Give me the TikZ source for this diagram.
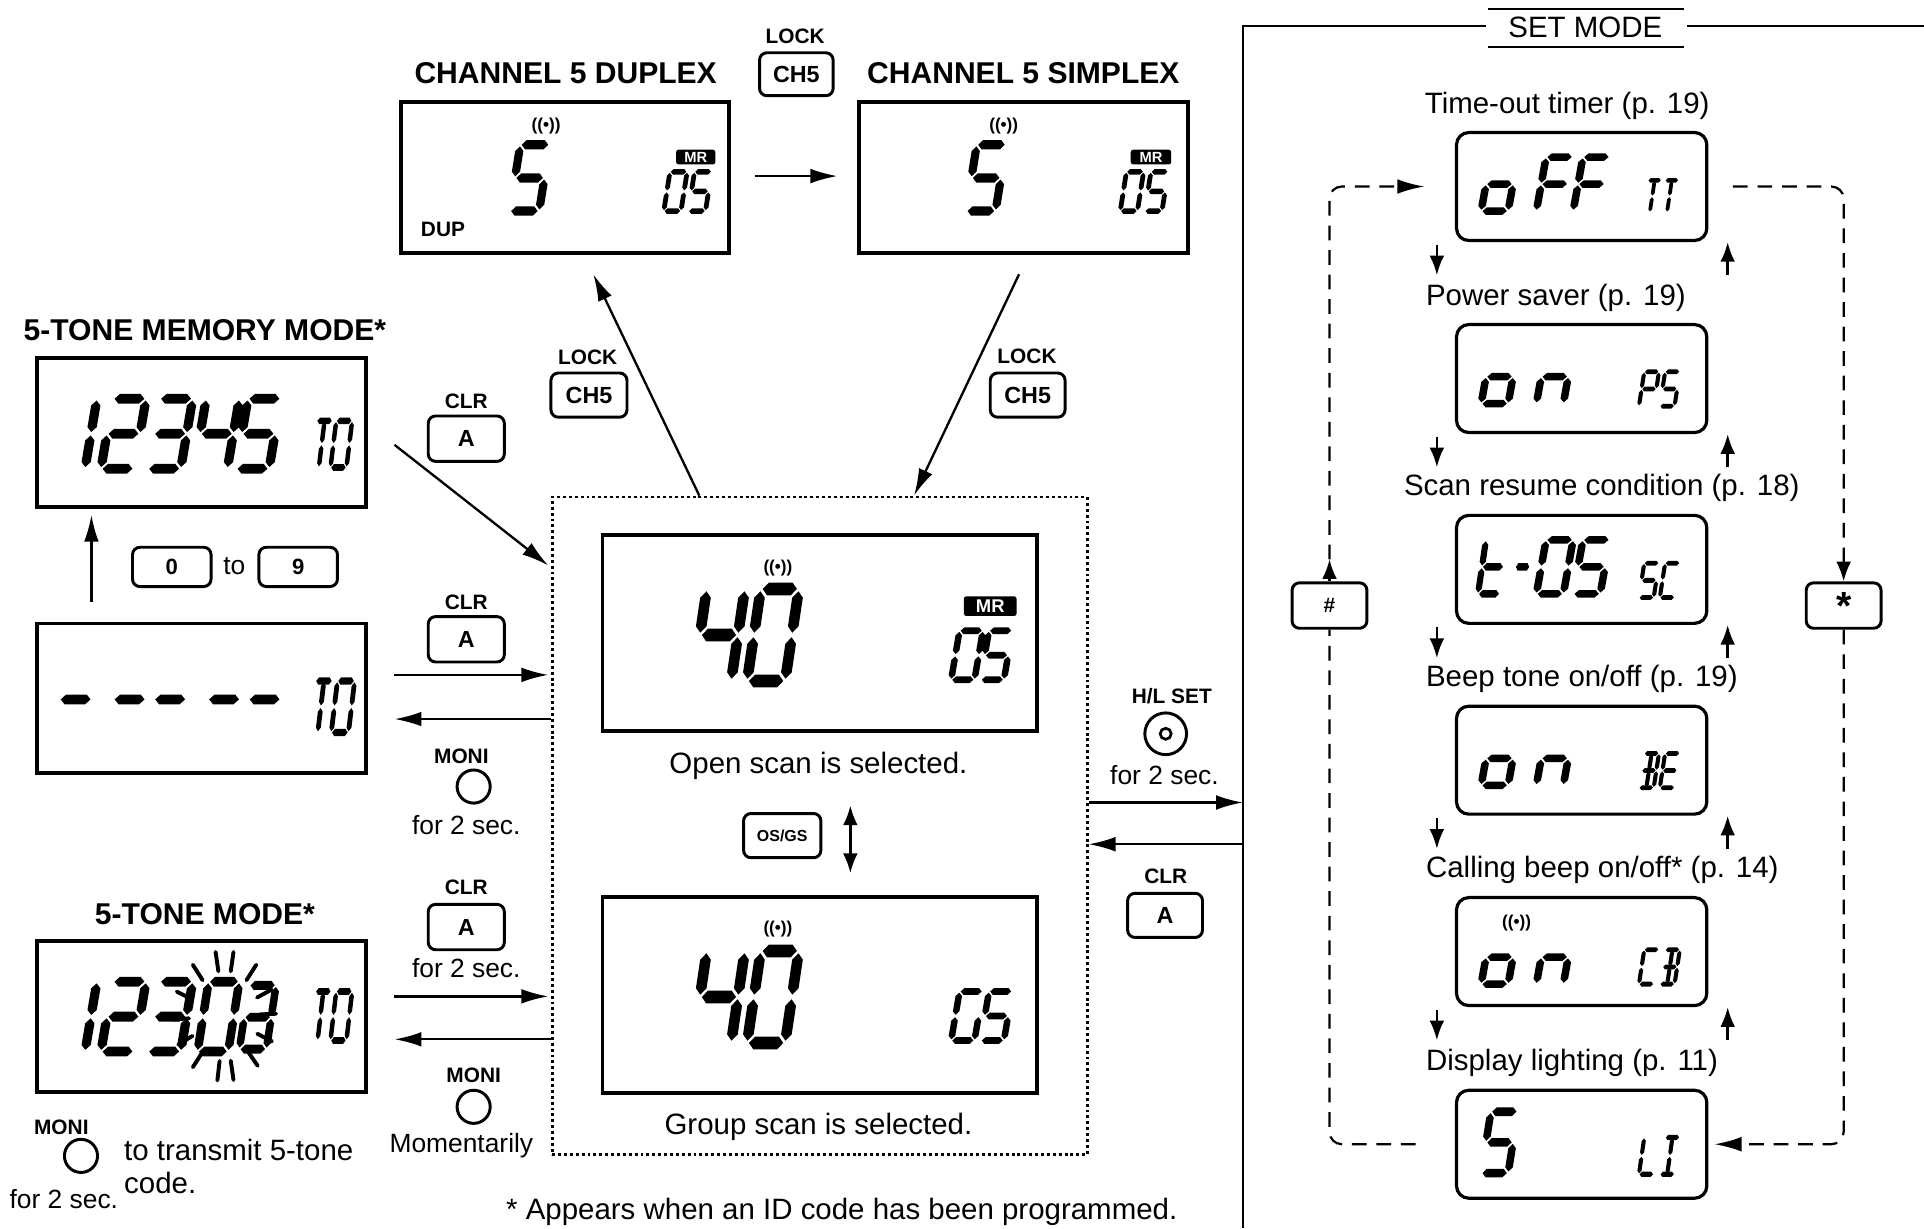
\documentclass[tikz,border=0pt]{standalone}
\usepackage{fontspec}
\setmainfont{Liberation Sans}
\usetikzlibrary{arrows.meta,calc}
\newcommand\hsg[1]{\fill (0.05,#1) -- (0.19,{#1-0.14}) -- (0.81,{#1-0.14}) -- (0.95,#1) -- (0.81,{#1+0.14}) -- (0.19,{#1+0.14}) -- cycle;}
\newcommand\vsg[2]{\fill (#1,{#2+0.05}) -- ({#1+0.14},{#2+0.19}) -- ({#1+0.14},{#2+0.81}) -- (#1,{#2+0.95}) -- ({#1-0.14},{#2+0.81}) -- ({#1-0.14},{#2+0.19}) -- cycle;}
\def\sgZero{1,1,1,1,1,1,0,0,0}
\def\sgOne{0,1,1,0,0,0,0,0,0}
\def\sgTwo{1,1,0,1,1,0,1,0,0}
\def\sgThree{1,1,1,1,0,0,1,0,0}
\def\sgFour{0,1,1,0,0,1,1,0,0}
\def\sgFive{1,0,1,1,0,1,1,0,0}
\def\sgPart{1,1,1,1,1,0,1,0,0}
\def\sgLo{0,0,1,1,1,0,1,0,0}
\def\sgLn{0,0,1,0,1,0,1,0,0}
\def\sgF{1,0,0,0,1,1,1,0,0}
\def\sgLt{0,0,0,1,1,1,1,0,0}
\def\sgDash{0,0,0,0,0,0,1,0,0}
\def\sgT{1,0,0,0,0,0,0,1,1}
\def\sgP{1,1,0,0,1,1,1,0,0}
\def\sgC{1,0,0,1,1,1,0,0,0}
\def\sgB{1,1,1,1,0,0,1,1,1}
\def\sgE{1,0,0,1,1,1,1,0,0}
\def\sgL{0,0,0,1,1,1,0,0,0}
\def\sgI{1,0,0,1,0,0,0,1,1}
\def\sgG{1,0,1,1,1,1,0,0,0}
\tikzset{
  sev/.pic={\begin{scope}[xslant=0.18]
    \foreach \v [count=\i] in #1 {\ifnum\v=1 \ifcase\i\or\hsg{0}\or\vsg{1}{0}\or\vsg{1}{1}\or\hsg{2}\or\vsg{0}{1}\or\vsg{0}{0}\or\hsg{1}\or\vsg{0.5}{0}\or\vsg{0.5}{1}\fi\fi}
  \end{scope}}
}
\newcommand\dg[5]{\pic[xscale=#3,yscale=#4] at (#1,#2) {sev=#5};}
\begin{document}
\begin{tikzpicture}[x=1pt,y=-1pt,
  lcd/.style={draw,line width=3pt,inner sep=0pt},
  slcd/.style={draw,line width=2.6pt,rounded corners=10pt,inner sep=0pt,minimum width=204pt,minimum height=88pt},
  keybox/.style={draw,line width=2.4pt,rounded corners=6pt,inner sep=0pt,font=\bfseries\fontsize{19}{19}\selectfont},
  btn/.style={draw,circle,line width=2.4pt,minimum size=27pt,inner sep=0pt},
  lbl/.style={inner sep=0pt,font=\bfseries\fontsize{17}{17}\selectfont},
  big/.style={inner sep=0pt,font=\bfseries\fontsize{24.5}{24.5}\selectfont},
  txt/.style={inner sep=0pt,font=\fontsize{24}{24}\selectfont},
  sml/.style={inner sep=0pt,font=\fontsize{21.5}{21.5}\selectfont},
  ant/.style={inner sep=0pt,font=\bfseries\fontsize{14}{14}\selectfont},
  mr/.style={fill=black,text=white,rounded corners=2pt,inner sep=0pt,font=\bfseries\fontsize{12}{12}\selectfont},
  tipL/.tip={Latex[length=22pt,width=12pt]},
  tipS/.tip={Latex[length=16pt,width=12pt]},
  arr/.style={line width=1.9pt,-tipL},
  sarr/.style={line width=2pt,-tipS},
  dsh/.style={line width=1.8pt,dash pattern=on 12pt off 8pt,rounded corners=10pt},
  dotbox/.style={draw,line width=2.2pt,dash pattern=on 2.4pt off 2.4pt,inner sep=0pt}
]
\useasboundingbox (0,0) rectangle (1568,1001);
\fill[white] (0,0) rectangle (1568,1001);

% ---------- top row ----------
\node[big] (dupT) at (461,60) {CHANNEL 5 DUPLEX};
\node[big] (simT) at (834,60) {CHANNEL 5 SIMPLEX};
\node[lbl] (lockT) at (648,30) {LOCK};
\node[keybox,minimum width=60pt,minimum height=35pt] (ch5T) at (649,60.5) {CH5};
\node[lcd,minimum width=267pt,minimum height=123pt] (dup) at (460.5,144.5) {};
\node[lcd,minimum width=268pt,minimum height=123pt] (sim) at (834,144.5) {};
\draw[arr] ($(dup.east)+(20,-1)$) -- ($(sim.west)+(-16,-1)$);
% duplex contents
\node[ant] (dupW) at (445,103) {((•))};
\dg{424}{118}{24}{27}{\sgFive}
\node[mr,minimum width=32pt,minimum height=12pt] (dupMR) at (567,128) {MR};
\dg{546}{140}{14}{16}{\sgZero}
\dg{566}{140}{14}{16}{\sgFive}
\node[lbl] (dupD) at (361,187) {DUP};
% simplex contents
\node[ant] (simW) at (818,103) {((•))};
\dg{796}{118}{24}{27}{\sgFive}
\node[mr,minimum width=33pt,minimum height=12pt] (simMR) at (938,128) {MR};
\dg{918}{140}{14}{16}{\sgZero}
\dg{938}{140}{14}{16}{\sgFive}

% ---------- left column ----------
\node[big] (memT) at (167,269) {5-TONE MEMORY MODE*};
\node[lcd,minimum width=268pt,minimum height=121pt] (mem) at (164,352.5) {};
\dg{52}{325}{27}{28.5}{\sgOne}
\dg{92}{325}{27}{28.5}{\sgTwo}
\dg{130}{325}{27}{28.5}{\sgThree}
\dg{168}{325}{27}{28.5}{\sgFour}
\dg{202}{325}{27}{28.5}{\sgFive}
\dg{258}{343}{13}{19}{\sgT}
\dg{274}{343}{13}{19}{\sgZero}

\node[keybox,minimum width=64pt,minimum height=32pt,font=\bfseries\fontsize{18}{18}\selectfont] (k0) at (140,462) {0};
\node[sml] (toT) at (191,461) {to};
\node[keybox,minimum width=64pt,minimum height=32pt,font=\bfseries\fontsize{18}{18}\selectfont] (k9) at (243,462) {9};

\node[lcd,minimum width=268pt,minimum height=122pt] (dashL) at (164,569) {};
\foreach \xx in {53,97,130,174,207} {\dg{\xx}{541.5}{27}{28.5}{\sgDash}}
\dg{257}{555}{14}{21}{\sgT}
\dg{275}{555}{14}{21}{\sgZero}
\draw[arr] ($(dashL.north west)+(46,-16)$) -- ($(mem.south west)+(46,5)$);

\node[lbl] (clr1) at (380,327) {CLR};
\node[keybox,minimum width=62pt,minimum height=37pt] (ka1) at (380,357.5) {A};
\node[lbl] (clr2) at (380,491) {CLR};
\node[keybox,minimum width=62pt,minimum height=37pt] (ka2) at (380,521) {A};
\node[lbl] (moni1) at (376,616) {MONI};
\node[btn] (mb1) at (386,641) {};
\node[sml] (f2s1) at (380,672) {for 2 sec.};

\node[big] (toneT) at (167,745) {5-TONE MODE*};
\node[lcd,minimum width=268pt,minimum height=123pt] (tone) at (164,828.5) {};
\dg{52}{800}{27}{28.5}{\sgOne}
\dg{92}{800}{27}{28.5}{\sgTwo}
\dg{130}{800}{27}{28.5}{\sgThree}
\dg{170}{800}{25}{28.5}{\sgZero}
\dg{203}{803}{22}{26}{\sgPart}
\coordinate (rc) at (183,828);
\foreach \a in {80,100,128,158,183,206,232,262,280,310,337,2,24,52}
  {\draw[line width=3.2pt,line cap=round] ($(rc)+({29*cos(\a)},{-37*sin(\a)})$) -- ($(rc)+({42*cos(\a)},{-53*sin(\a)})$);}
\dg{257}{808}{13}{20}{\sgT}
\dg{274}{808}{13}{20}{\sgZero}

\node[lbl] (moni2) at (50,919) {MONI};
\node[btn] (mb2) at (66,942) {};
\node[sml] (f2s2) at (52,977) {for 2 sec.};
\node[txt,anchor=west] (trans) at (101,937) {to transmit 5-tone};
\node[txt,anchor=west] (code) at (101,964) {code.};

\node[lbl] (clr3) at (380,723) {CLR};
\node[keybox,minimum width=62pt,minimum height=37pt] (ka3) at (380,755.5) {A};
\node[sml] (f2s3) at (380,789) {for 2 sec.};
\node[lbl] (moni3) at (386,876) {MONI};
\node[btn] (mb3) at (386,902) {};
\node[sml] (moment) at (376,934) {Momentarily};

% ---------- centre box ----------
\node[dotbox,minimum width=436pt,minimum height=536pt] (cbox) at (668,673) {};
\node[lcd,minimum width=354pt,minimum height=160pt] (open) at (668,516) {};
\node[ant] (openW) at (634,463) {((•))};
\dg{576}{480}{31}{37.5}{\sgFour}
\dg{620}{480}{31}{37.5}{\sgZero}
\node[mr,minimum width=43pt,minimum height=16pt,font=\bfseries\fontsize{15}{15}\selectfont] (openMR) at (807,494) {MR};
\dg{782}{514}{19}{20}{\sgZero}
\dg{806}{514}{19}{20}{\sgFive}
\node[txt] (openT) at (667,624) {Open scan is selected.};
\node[keybox,minimum width=63pt,minimum height=36pt,font=\bfseries\fontsize{13}{13}\selectfont] (osgs) at (637.5,681) {OS/GS};
\node[lcd,minimum width=354pt,minimum height=160pt] (grp) at (668,811) {};
\node[ant] (grpW) at (634,757) {((•))};
\dg{576}{775}{31}{37.5}{\sgFour}
\dg{620}{775}{31}{37.5}{\sgZero}
\dg{782}{808}{19}{20}{\sgG}
\dg{806}{808}{19}{20}{\sgFive}
\node[txt] (grpT) at (667,918) {Group scan is selected.};
\draw[line width=1.9pt,tipS-tipS] ($(open.south)+(25,59)$) -- ($(grp.north)+(25,-18)$);

% left arrows into the box
\draw[arr] ($(mem.east)+(22,10)$) -- ($(cbox.north west)+(-2,57)$);
\draw[arr] ($(dashL.east)+(22,-19)$) -- ($(cbox.west)+(-2,-123)$);
\draw[arr] ($(cbox.west)+(0,-87)$) -- ($(dashL.east)+(22,17)$);
\draw[arr] ($(tone.east)+(22,-16.5)$) -- ($(cbox.west)+(-2,139)$);
\draw[arr] ($(cbox.west)+(0,174)$) -- ($(tone.east)+(22,18.5)$);

% top arrows
\node[lbl] (lock2) at (479,291) {LOCK};
\node[keybox,minimum width=62pt,minimum height=36pt] (ch52) at (480,322) {CH5};
\node[lbl] (lock3) at (837,290) {LOCK};
\node[keybox,minimum width=61pt,minimum height=36pt] (ch53) at (837.5,322) {CH5};
\draw[arr] ($(cbox.north west)+(121,0)$) -- ($(dup.south west)+(158,16)$);
\draw[arr] ($(sim.south west)+(132,16)$) -- ($(cbox.north west)+(296,0)$);

% ---------- set mode frame ----------
\coordinate (frTL) at (1013,21);
\coordinate (frBL) at (1013,1001);
\node[txt] (setT) at (1292,22) {SET MODE};
\draw[line width=2pt] (1211,21) -- (frTL) -- (frBL);
\draw[line width=2pt] (1375,21) -- (1568,21);
\draw[line width=1.6pt] (1213,7) -- (1372,7);
\draw[line width=1.6pt] (1213,38) -- (1372,38);

% H/L SET and CLR between box and frame
\node[lbl] (hlT) at (955,567) {H/L SET};
\node[btn,minimum size=34pt] (hlb) at (950,598) {};
\draw[line width=2.2pt] (hlb.center) circle (4.5);
\node[sml] (f2s4) at (949,632) {for 2 sec.};
\draw[arr] ($(cbox.east)+(0,-19)$) -- ($(cbox.east -| frTL)+(0,-19)$);
\draw[arr] ($(cbox.east -| frTL)+(0,15)$) -- ($(cbox.east)+(0,15)$);
\node[lbl] (clr4) at (950,714) {CLR};
\node[keybox,minimum width=61pt,minimum height=36pt] (ka4) at (949.5,746) {A};

% ---------- set mode displays ----------
\node[txt,anchor=west] (l1) at (1161,86) {Time-out timer (p. 19)};
\node[slcd] (s1) at (1289,152) {};
\dg{1215}{128}{22}{22}{\sgLo}
\dg{1260}{128}{22}{22}{\sgF}
\dg{1290}{128}{22}{22}{\sgF}
\dg{1343}{147}{11}{13}{\sgT}
\dg{1357}{147}{11}{13}{\sgT}

\node[txt,anchor=west] (l2) at (1162,243) {Power saver (p. 19)};
\node[slcd] (s2) at (1289,308.5) {};
\dg{1215}{285}{22}{22}{\sgLo}
\dg{1260}{285}{22}{22}{\sgLn}
\dg{1340}{303}{12}{14}{\sgP}
\dg{1357}{303}{12}{14}{\sgFive}

\node[txt,anchor=west] (l3) at (1144,398) {Scan resume condition (p. 18)};
\node[slcd] (s3) at (1289,464) {};
\dg{1211}{440}{18}{22}{\sgLt}
\dg{1237}{440}{12}{22}{\sgDash}
\dg{1260}{440}{22}{22}{\sgZero}
\dg{1290}{440}{22}{22}{\sgFive}
\dg{1340}{459}{12}{14}{\sgFive}
\dg{1357}{459}{12}{14}{\sgC}

\node[txt,anchor=west] (l4) at (1162,553) {Beep tone on/off (p. 19)};
\node[slcd] (s4) at (1289,619.5) {};
\dg{1215}{596}{22}{22}{\sgLo}
\dg{1260}{596}{22}{22}{\sgLn}
\dg{1340}{614}{12}{14}{\sgB}
\dg{1357}{614}{12}{14}{\sgE}

\node[txt,anchor=west] (l5) at (1162,709) {Calling beep on/off* (p. 14)};
\node[slcd] (s5) at (1289,775.5) {};
\node[ant] (s5W) at (1236,752) {((•))};
\dg{1215}{758}{22}{22}{\sgLo}
\dg{1260}{758}{22}{22}{\sgLn}
\dg{1340}{774}{12}{14}{\sgC}
\dg{1357}{774}{12}{14}{\sgB}

\node[txt,anchor=west] (l6) at (1162,866) {Display lighting (p. 11)};
\node[slcd] (s6) at (1289,932.5) {};
\dg{1215}{906}{22}{25}{\sgFive}
\dg{1340}{927}{12}{15}{\sgL}
\dg{1357}{927}{12}{15}{\sgI}

\foreach \s in {s1,s2,s3,s4,s5} {
  \draw[sarr] ($(\s.south)+(-118,2)$) -- ($(\s.south)+(-118,27)$);
  \draw[sarr] ($(\s.south)+(119,27)$) -- ($(\s.south)+(119,0)$);
}

% keys and dashed loop
\node[keybox,minimum width=61pt,minimum height=37pt,font=\bfseries\fontsize{17}{17}\selectfont] (hk) at (1083.5,493.5) {\#};
\node[keybox,minimum width=61pt,minimum height=37pt,font=\bfseries\fontsize{32}{32}\selectfont] (sk) at (1502.5,493.5) {\raisebox{-9pt}{*}};
\draw[dsh] ($(s6.west)+(-32,0)$) -- (hk.south |- s6.west) -- (hk.south);
\draw[line width=1.8pt,-tipS] (hk.north) -- ($(hk.north)+(0,-18)$);
\draw[dsh,-tipL] ($(hk.north)+(0,-18)$) -- (hk.north |- s1.west) -- ($(s1.west)+(-25,0)$);
\draw[dsh,-tipS] ($(s1.east)+(20,0)$) -- (sk.north |- s1.east) -- (sk.north);
\draw[dsh,-tipL] (sk.south) -- (sk.south |- s6.east) -- ($(s6.east)+(5,0)$);

% footnote
\node[txt] (foot) at (686,988) {* Appears when an ID code has been programmed.};
\end{tikzpicture}
\end{document}
